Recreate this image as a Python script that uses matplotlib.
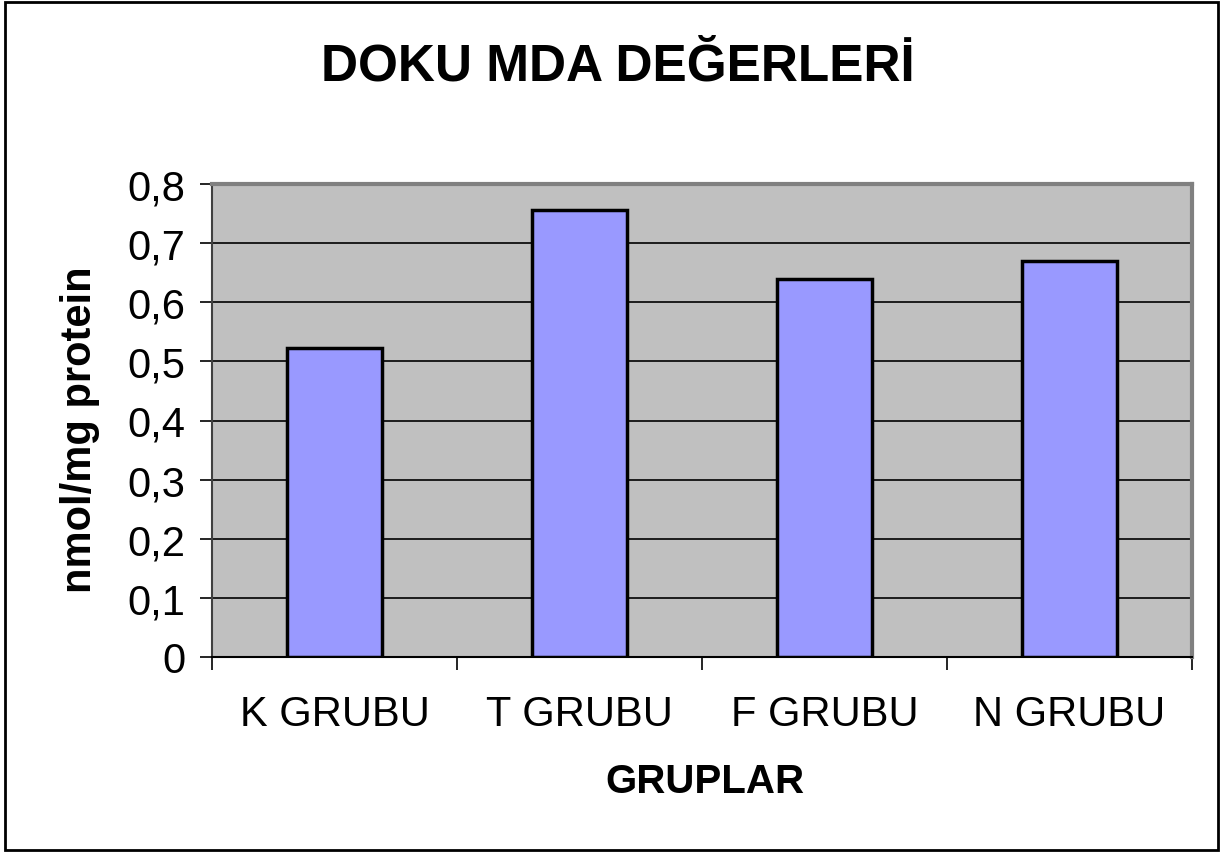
import matplotlib
matplotlib.use("Agg")
import matplotlib.pyplot as plt
from matplotlib.patches import Rectangle

categories = ["K GRUBU", "T GRUBU", "F GRUBU", "N GRUBU"]
values = [0.522, 0.756, 0.639, 0.669]
yticks = [0, 0.1, 0.2, 0.3, 0.4, 0.5, 0.6, 0.7, 0.8]
ytick_labels = ["0", "0,1", "0,2", "0,3", "0,4", "0,5", "0,6", "0,7", "0,8"]

plt.rcParams['font.family'] = ['Liberation Sans', 'DejaVu Sans']

W, H = 1221, 853
fig = plt.figure(figsize=(W / 100, H / 100), dpi=100)
fig.patch.set_facecolor("white")

# outer border
fig.add_artist(Rectangle((5 / W, 1 - 851 / H), 1213 / W, 848 / H,
                         transform=fig.transFigure, fill=False,
                         edgecolor="black", linewidth=2))

left, right, top, bottom = 212, 1192, 185, 658
ax = fig.add_axes([left / W, 1 - bottom / H, (right - left) / W, (bottom - top) / H])
ax.set_facecolor("#C0C0C0")

x = list(range(len(categories)))
ax.bar(x, values, width=0.39, color="#9999FF", edgecolor="black", linewidth=2.5, zorder=3)

ax.set_xlim(-0.5, len(categories) - 0.5)
ax.set_ylim(0, 0.8)
ax.set_yticks(yticks)
ax.set_yticklabels(ytick_labels, fontsize=30)
ax.yaxis.grid(True, color="black", linewidth=1.2, zorder=1)
ax.set_axisbelow(True)

ax.set_xticks(x)
ax.set_xticklabels(categories, fontsize=30)
ax.tick_params(axis="x", length=0, pad=27)
ax.set_xticks([i - 0.5 for i in range(len(categories) + 1)], minor=True)
ax.tick_params(axis="x", which="minor", length=9, width=1.2, color="black", direction="out")
ax.tick_params(axis="y", length=9, width=1.2, direction="out", pad=10)

for s in ["top", "right"]:
    ax.spines[s].set_color("#808080")
    ax.spines[s].set_linewidth(3)
for s in ["left", "bottom"]:
    ax.spines[s].set_color("black")
    ax.spines[s].set_linewidth(1.5)
ax.spines["left"].set_color("#404040")

fig.text(80 / W, 1 - 430 / H, "nmol/mg protein", fontsize=30, fontweight="bold",
         rotation=90, ha="center", va="center")
fig.text(705 / W, 1 - 782 / H, "GRUPLAR", fontsize=29, fontweight="bold",
         ha="center", va="center")
fig.text(618 / W, 1 - 67 / H, "DOKU MDA DEĞERLERİ", fontsize=37, fontweight="bold",
         ha="center", va="center")

fig.savefig("out.png", dpi=100)
